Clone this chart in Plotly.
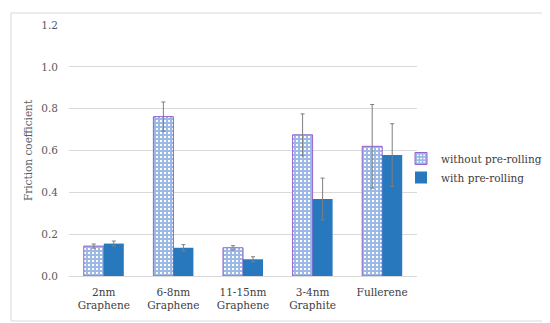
import plotly.graph_objects as go

categories = ["2nm<br>Graphene", "6-8nm<br>Graphene", "11-15nm<br>Graphene", "3-4nm<br>Graphite", "Fullerene"]
without_vals = [0.143, 0.762, 0.135, 0.675, 0.620]
without_err = [0.010, 0.070, 0.010, 0.100, 0.200]
with_vals = [0.155, 0.135, 0.080, 0.368, 0.578]
with_err = [0.012, 0.015, 0.012, 0.100, 0.150]
yticks = [0.0, 0.2, 0.4, 0.6, 0.8, 1.0, 1.2]

W, H = 550, 323
ml, mr, mt, mb = 61, 141, 17, 55
pw, ph = W - ml - mr, H - mt - mb

font_fam = "DejaVu Serif"
blue = "#2878BE"

fig = go.Figure()
fig.add_trace(go.Bar(
    x=categories, y=without_vals, name="without pre-rolling",
    marker=dict(color="white", line=dict(color="#9461D0", width=1),
                pattern=dict(shape="+", fgcolor="#3A72CC", bgcolor="white", size=4, solidity=0.75, fillmode="overlay")),
    error_y=dict(type="data", array=without_err, color="#7F7F7F", thickness=1, width=2),
))
fig.add_trace(go.Bar(
    x=categories, y=with_vals, name="with pre-rolling",
    marker=dict(color=blue, line=dict(width=0)),
    error_y=dict(type="data", array=with_err, color="#7F7F7F", thickness=1, width=2),
))

fig.update_layout(
    width=W, height=H,
    margin=dict(l=ml, r=mr, t=mt, b=mb, autoexpand=False),
    paper_bgcolor="white", plot_bgcolor="white",
    barmode="group", bargap=0.425, bargroupgap=0,
    font=dict(family=font_fam, size=10.5, color="#595959"),
    showlegend=True,
    legend=dict(x=(393 - ml) / pw, xanchor="left", y=(268 - 160) / ph, yanchor="middle",
                font=dict(family=font_fam, size=10.5, color="#404040"),
                bgcolor="rgba(0,0,0,0)", itemwidth=30),
    yaxis=dict(range=[0, 1.2], tickvals=yticks, tickformat=".1f", automargin=False,
               showgrid=True, gridcolor="#D9D9D9", gridwidth=1,
               zeroline=True, zerolinecolor="#D9D9D9", zerolinewidth=1,
               showline=False, ticks="", ticklen=0, ticklabelstandoff=10,
               title=dict(text="Friction coefficient", font=dict(size=10.5, color="#595959"), standoff=6),
               tickfont=dict(size=10.5, color="#595959")),
    xaxis=dict(showline=False, ticks="", showgrid=False, automargin=False,
               ticklabelstandoff=8,
               tickfont=dict(size=10.5, color="#404040")),
    shapes=[dict(type="rect", xref="paper", yref="paper",
                 x0=(3 - ml) / pw, x1=(543 - ml) / pw,
                 y0=(268 - 313) / ph, y1=(268 - 5) / ph,
                 line=dict(color="#D9D9D9", width=1), fillcolor="rgba(0,0,0,0)", layer="below")],
)

fig.write_html("out.html")
